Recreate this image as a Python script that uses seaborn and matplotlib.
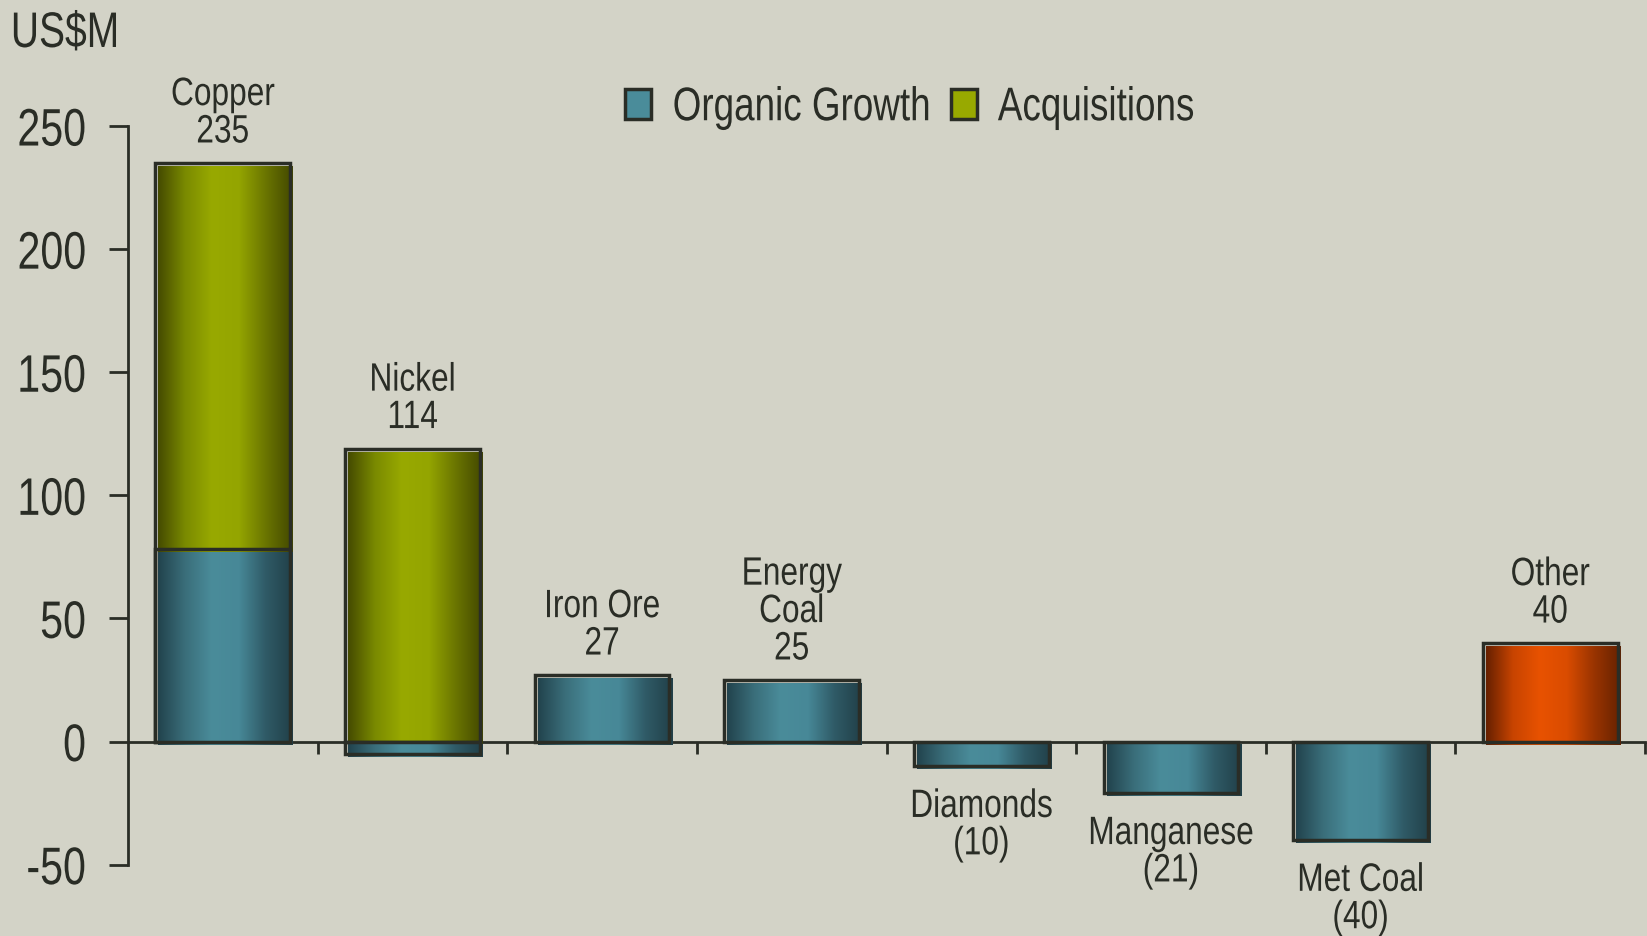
import numpy as np
import pandas as pd
import matplotlib
matplotlib.use('Agg')
import matplotlib.pyplot as plt
import seaborn as sns
from matplotlib.colors import LinearSegmentedColormap
from matplotlib.patches import Patch
from matplotlib.patheffects import AbstractPathEffect
from matplotlib.transforms import Affine2D

categories = ['Copper', 'Nickel', 'Iron Ore', 'Energy\nCoal', 'Diamonds',
              'Manganese', 'Met Coal', 'Other']
organic = [78, -5, 27, 25, -10, -21, -40, 40]
acquisitions = [157, 119, 0, 0, 0, 0, 0, 0]
total_labels = ['235', '114', '27', '25', '(10)', '(21)', '(40)', '40']
yticks = [-50, 0, 50, 100, 150, 200, 250]

bg = '#D3D3C7'
ink = '#2A2D26'


class Narrow(AbstractPathEffect):
    """squeeze text horizontally, like a narrow face"""

    def __init__(self, sx=0.8, anchor=0.5):
        super().__init__()
        self.sx, self.anchor = sx, anchor

    def draw_path(self, renderer, gc, tpath, affine, rgbFace=None):
        ext = tpath.get_extents()
        x0 = ext.x0 + self.anchor * ext.width
        t = Affine2D().translate(-x0, 0).scale(self.sx, 1).translate(x0, 0) + affine
        renderer.draw_path(gc, tpath, t, rgbFace)


SX = 0.78

sns.set_theme(style='white')
plt.rcParams['font.family'] = ['Liberation Sans', 'DejaVu Sans']

fig = plt.figure(figsize=(16.47, 9.37), dpi=100, facecolor=bg)
ax = fig.add_axes([128 / 1647, 0, 1517 / 1647, 1])
ax.set_facecolor(bg)

df = pd.DataFrame({'category': categories, 'organic': organic,
                   'acquisitions': acquisitions})
# acquisitions stack on top of positive organic growth
df['acq_top'] = [a + max(o, 0) if a else 0 for o, a in zip(organic, acquisitions)]

sns.barplot(data=df, x='category', y='acq_top', width=0.71, color='#96A800', ax=ax)
sns.barplot(data=df, x='category', y='organic', width=0.71, color='#4A8C99', ax=ax)


def shade(colors):
    return LinearSegmentedColormap.from_list('', colors)


teal = shade(['#22434D', '#3A6E7A', '#4A8C9A', '#478897', '#2F5A66', '#213F48'])
olive = shade(['#454B00', '#7A8A00', '#98A900', '#94A500', '#6A7500', '#434800'])
orange = shade(['#662000', '#C84400', '#E85200', '#DA4C00', '#9A3400', '#662200'])
grad = np.linspace(0, 1, 256).reshape(1, -1)

ax.set_xlim(-0.5, 7.5)
ax.set_ylim(-79, 301.6)
# small offset of the fill against its outline (3 px right and down)
dx = 3 * 8 / 1517
dy = 3 * (301.6 + 79) / 937

n = len(categories)
cmaps = [olive] * n + [teal] * (n - 1) + [orange]
for i, (p, cmap) in enumerate(zip(ax.patches, cmaps)):
    x, y, w, h = p.get_x(), p.get_y(), p.get_width(), p.get_height()
    if h == 0:
        p.set_visible(False)
        continue
    z = 2 if i < n else 2.5
    ax.imshow(grad, cmap=cmap,
              extent=[x + dx, x + w + dx, min(y, y + h) - dy, max(y, y + h) - dy],
              aspect='auto', zorder=z, interpolation='bilinear')
    p.set_facecolor('none')
    p.set_edgecolor(ink)
    p.set_linewidth(2.5)
    p.set_zorder(z + 0.1)

# bar labels
for i, (name, o, a, lab) in enumerate(zip(categories, organic, acquisitions, total_labels)):
    top = a + max(o, 0)
    bottom = min(o, 0)
    if o + a >= 0:
        ax.annotate(f'{name}\n{lab}', (i, top), xytext=(0, 9), textcoords='offset points',
                    ha='center', va='bottom', fontsize=28.5, color=ink, linespacing=0.98,
                    path_effects=[Narrow(0.8, 0.5)])
    else:
        ax.annotate(f'{name}\n{lab}', (i, bottom), xytext=(0, -15), textcoords='offset points',
                    ha='center', va='top', fontsize=28.5, color=ink, linespacing=0.98,
                    path_effects=[Narrow(0.8, 0.5)])

ax.set_xlim(-0.5, 7.5)
ax.set_ylim(-79, 301.6)
sns.despine(ax=ax)
ax.spines['left'].set_bounds(-50, 250)
ax.spines['bottom'].set_position(('data', 0))
for s in ('left', 'bottom'):
    ax.spines[s].set_color(ink)
    ax.spines[s].set_linewidth(2)
    ax.spines[s].set_zorder(1)

ax.set_xticks(np.arange(n) + 0.5)
ax.set_xticklabels([])
ax.set_yticks(yticks)
ax.set_yticklabels([str(v) for v in yticks])
ax.tick_params(axis='x', direction='out', length=8.5, width=2, color=ink, bottom=True)
ax.tick_params(axis='y', direction='out', length=14, width=2, color=ink, left=True,
               pad=16, labelsize=38, labelcolor=ink)
ax.set_xlabel('')
ax.set_ylabel('')

fig.text(10 / 1647, 1 - 12 / 937, 'US\\$M', ha='left', va='top', fontsize=36, color=ink,
         path_effects=[Narrow(SX, 0.0)])

legend_items = [('Organic Growth', '#4A8C9A', 595), ('Acquisitions', '#98A900', 905)]
for label, col, xpos in legend_items:
    leg = fig.legend([Patch(facecolor=col, edgecolor=ink, linewidth=2.5)], [label],
                     loc='center left', bbox_to_anchor=(xpos / 1568, 1 - 104 / 892),
                     frameon=False, fontsize=34, handlelength=0.55, handleheight=0.6,
                     handletextpad=0.45, borderpad=0, borderaxespad=0, labelcolor=ink)
    for t in leg.get_texts():
        t.set_path_effects([Narrow(SX, 0.0)])

fig.canvas.draw()
for t in ax.get_yticklabels():
    t.set_path_effects([Narrow(SX, 1.0)])

fig.savefig('out.png', dpi=100, facecolor=bg)
